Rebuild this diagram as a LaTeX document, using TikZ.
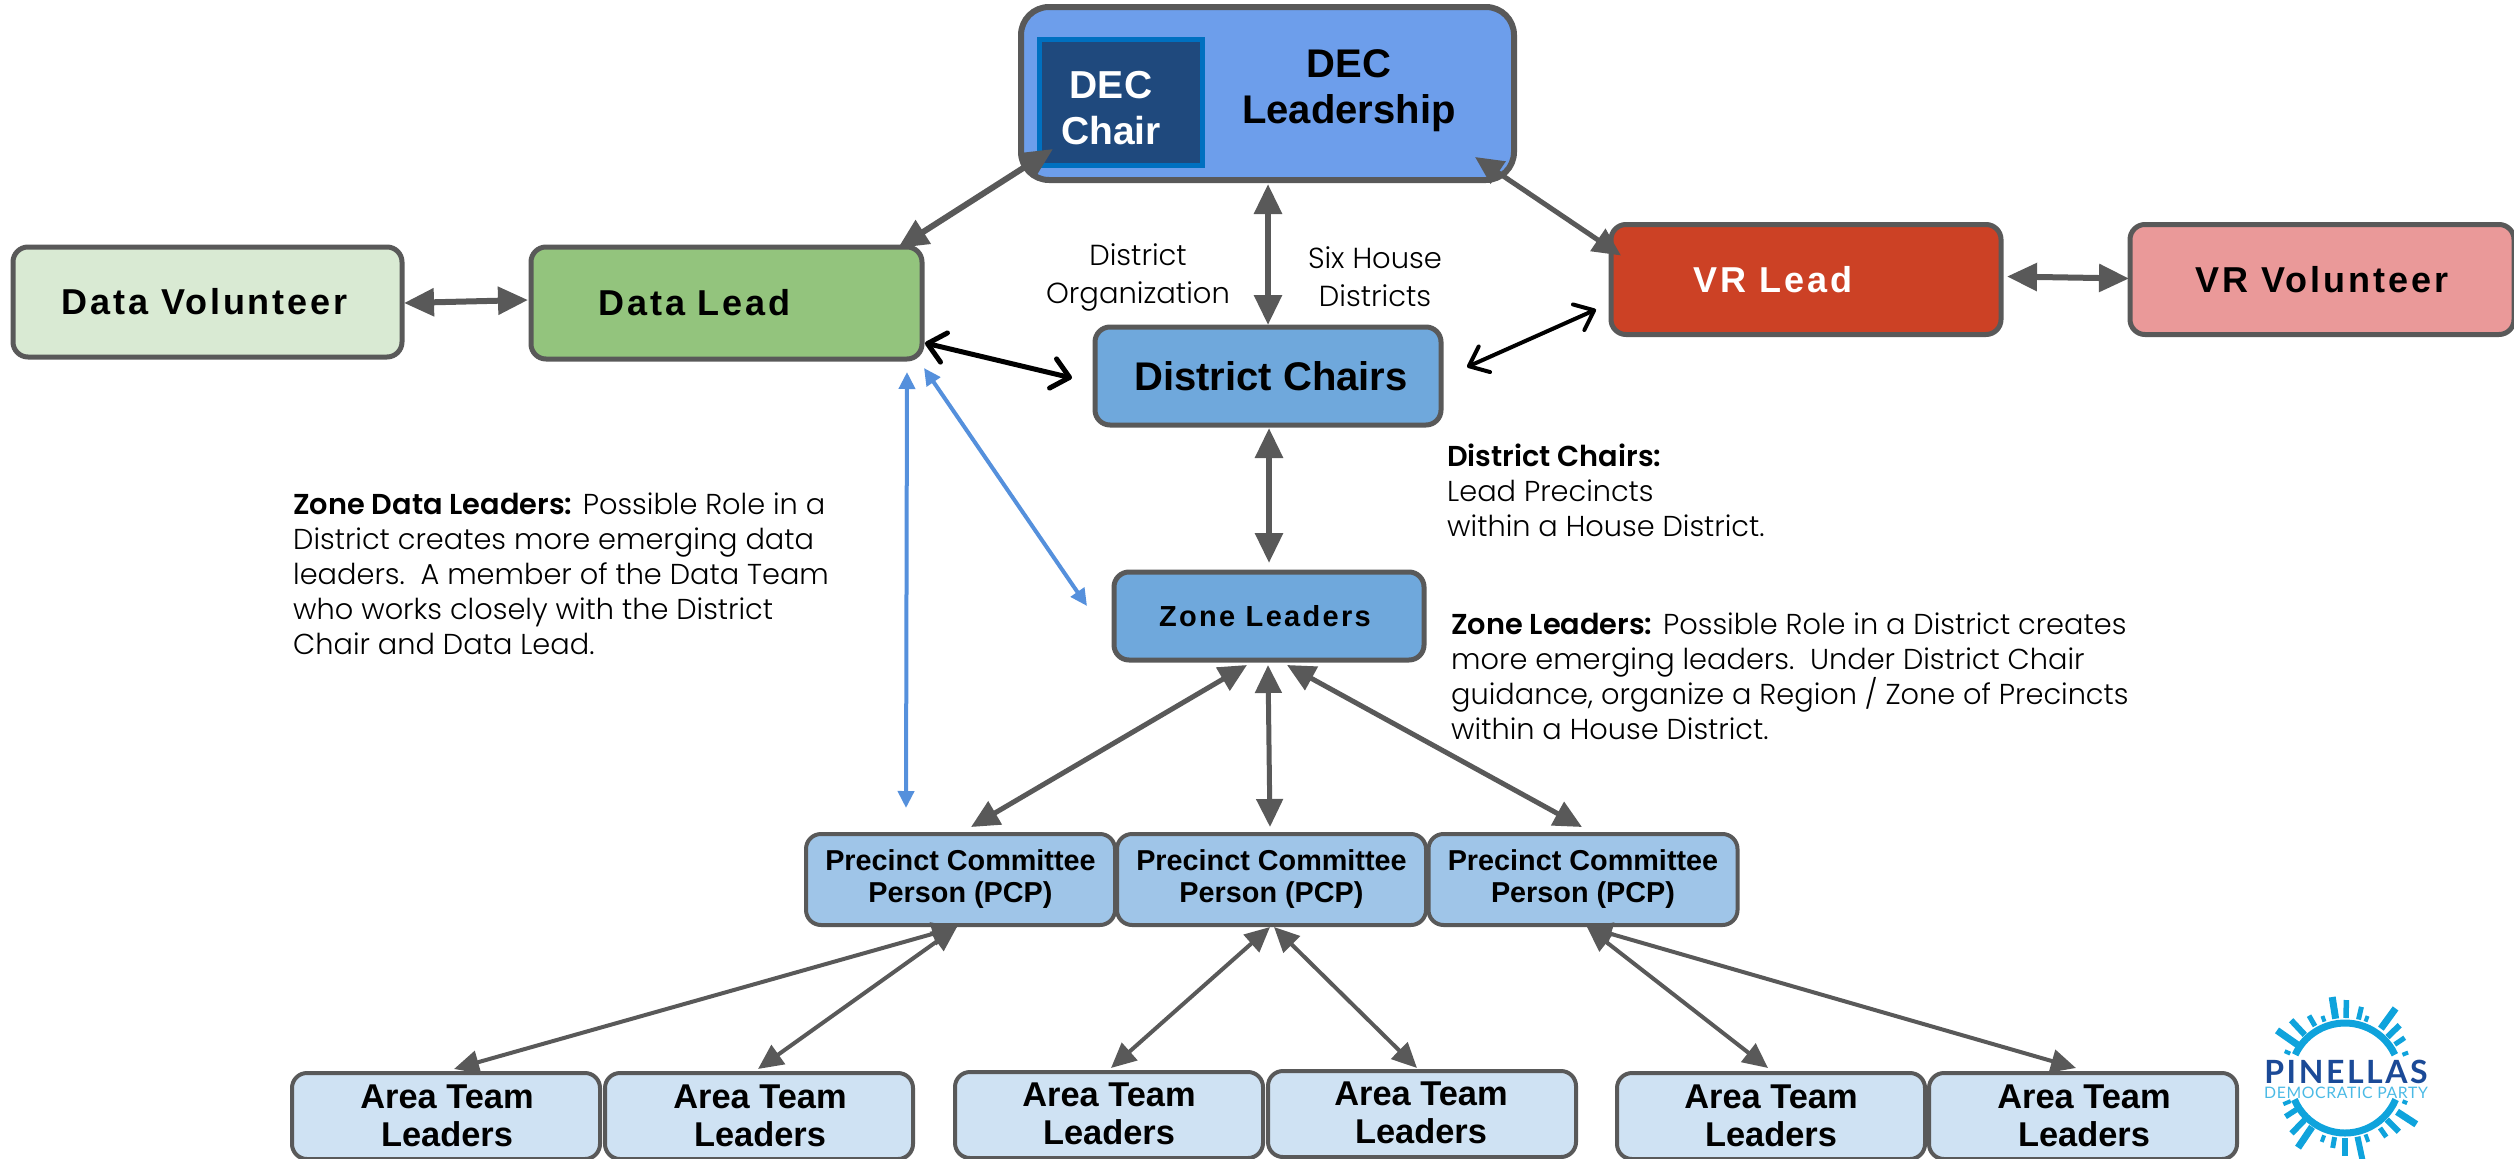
\documentclass[tikz,border=0pt]{standalone}
\usepackage{fontspec}
\usetikzlibrary{arrows.meta,calc}
\setmainfont{Poppins}[UprightFont=* Light,BoldFont=* SemiBold]
\newfontfamily\arialwide[LetterSpace=8]{Liberation Sans}
\newfontfamily\arialzone[LetterSpace=8]{Liberation Sans}
\newfontfamily\arial{Liberation Sans}
\newfontfamily\logofont{Lato}
\definecolor{edge}{HTML}{595959}
\definecolor{decfill}{HTML}{6D9EEB}
\definecolor{chairfill}{HTML}{1F497D}
\definecolor{chairedge}{HTML}{0070C0}
\definecolor{dvfill}{HTML}{D9EAD3}
\definecolor{dlfill}{HTML}{93C47D}
\definecolor{vrfill}{HTML}{CC4125}
\definecolor{vvfill}{HTML}{EA9999}
\definecolor{midblue}{HTML}{6FA8DC}
\definecolor{pcpfill}{HTML}{9FC5E8}
\definecolor{areafill}{HTML}{CFE2F3}
\definecolor{bluearrow}{HTML}{5590DC}
\definecolor{sun}{HTML}{0FA3DC}
\definecolor{navy}{HTML}{1B4A97}
\tikzset{
  boxbase/.style={draw=edge,line width=5pt,rounded corners=15pt,inner sep=0pt,outer sep=0pt},
  topbox/.style={boxbase,font=\arialwide\bfseries\fontsize{36}{40}\selectfont,minimum height=110pt},
  pcpbox/.style={boxbase,fill=pcpfill,minimum width=309pt,minimum height=91pt,line width=4pt,font=\arial\bfseries\fontsize{28.8}{32}\selectfont,align=center},
  areabox/.style={boxbase,fill=areafill,minimum width=308pt,minimum height=86pt,line width=4pt},
  arealabel/.style={font=\arial\bfseries\fontsize{34.4}{38}\selectfont,align=center,inner sep=0pt},
  conn/.style={draw=edge,line width=6pt,{Triangle[length=30pt,width=27pt]}-{Triangle[length=30pt,width=27pt]}},
  connmid/.style={draw=edge,line width=5pt,{Triangle[length=28pt,width=26pt]}-{Triangle[length=28pt,width=26pt]}},
  connsmall/.style={draw=edge,line width=4pt,{Triangle[length=25pt,width=23pt]}-{Triangle[length=25pt,width=23pt]}},
  blackthick/.style={draw=black,line width=5pt,{Straight Barb[length=17pt,width=30pt,round]}-{Straight Barb[length=17pt,width=30pt,round]}},
  blackthin/.style={draw=black,line width=4pt,{Straight Barb[length=17pt,width=28pt,round]}-{Straight Barb[length=17pt,width=28pt,round]}},
  blueconn/.style={draw=bluearrow,line width=4pt,{Triangle[length=17pt,width=16pt]}-{Triangle[length=17pt,width=16pt]}},
  note/.style={font=\fontsize{28.8}{35}\selectfont,align=left,anchor=north west,inner sep=0pt},
  side/.style={font=\fontsize{29}{38}\selectfont,align=center,inner sep=0pt},
  sunray/.style={draw=sun,line cap=butt}
}
\begin{document}
\begin{tikzpicture}[x=1pt,y=-1pt]
\useasboundingbox (0,0) rectangle (2514,1159);
\clip (0,0) rectangle (2514,1159);
% boxes
\node[boxbase,fill=decfill,minimum width=493pt,minimum height=173pt,line width=6pt,rounded corners=28pt] (dec) at (1267.5,93.5) {};
\node[draw=chairedge,fill=chairfill,line width=5pt,minimum width=163pt,minimum height=126pt,inner sep=0pt,outer sep=0pt] (chair) at (1120.5,102) {};
\node[font=\arial\bfseries\fontsize{39}{46}\selectfont,align=center,text=white,inner sep=0pt] (chairlabel) at (1111,108) {DEC\\Chair};
\node[font=\arial\bfseries\fontsize{40}{46}\selectfont,align=center,inner sep=0pt] (declabel) at (1349,91) {DEC\\Leadership};
\node[topbox,fill=dvfill,minimum width=389pt] (dv) at (207.5,302) {\hspace*{-6pt}Data Volunteer};
\node[topbox,fill=dlfill,minimum width=391pt,minimum height=112pt] (dl) at (726.5,303) {\hspace*{-64pt}Data Lead};
\node[topbox,fill=vrfill,minimum width=390pt,text=white] (vr) at (1806,279.5) {\hspace*{-66pt}VR Lead};
\node[topbox,fill=vvfill,minimum width=384pt] (vv) at (2322,279.5) {VR Volunteer};
\node[boxbase,fill=midblue,minimum width=346pt,minimum height=98pt,font=\arial\bfseries\fontsize{40}{44}\selectfont] (dc) at (1268,376) {\hspace*{6pt}District Chairs};
\node[boxbase,fill=midblue,minimum width=310pt,minimum height=88pt,font=\arialzone\bfseries\fontsize{29}{32}\selectfont] (zl) at (1269,616) {\hspace*{-8pt}Zone Leaders};
\node[pcpbox] (p1) at (960.5,879.5) {Precinct Committee\\Person (PCP)};
\node[pcpbox] (p2) at (1271.5,879.5) {Precinct Committee\\Person (PCP)};
\node[pcpbox] (p3) at (1583,879.5) {Precinct Committee\\Person (PCP)};
\node[areabox] (a1) at (446,1116) {};
\node[areabox] (a2) at (759,1116) {};
\node[areabox] (a3) at (1109,1115) {};
\node[areabox] (a4) at (1422,1114) {};
\node[areabox] (a5) at (1771,1116) {};
\node[areabox] (a6) at (2083,1116) {};
\node[arealabel] (l1) at (447,1116) {Area Team\\Leaders};
\node[arealabel] (l2) at (760,1116) {Area Team\\Leaders};
\node[arealabel] (l3) at (1109,1114) {Area Team\\Leaders};
\node[arealabel] (l4) at (1421,1113) {Area Team\\Leaders};
\node[arealabel] (l5) at (1771,1116) {Area Team\\Leaders};
\node[arealabel] (l6) at (2084,1116) {Area Team\\Leaders};
% connectors
\draw[conn] ($(dv.east)+(2,1)$) -- ($(dl.west)+(-3,-3)$);
\draw[conn] ($(chair.south west)+(14,-16)$) -- ($(dl.north east)+(-24,1)$);
\draw[conn] ($(dec.south)+(0.5,4)$) -- ($(dc.north)+(0,-2)$);
\draw[connmid] ($(dec.south east)+(-39,-23)$) -- ($(vr.north west)+(10,31)$);
\draw[conn] ($(vr.east)+(6,-3)$) -- ($(vv.west)+(-1,-1)$);
\draw[conn] ($(dc.south)+(1,3)$) -- ($(zl.north)+(0,-9)$);
\draw[blackthick] ($(dl.south east)+(3,-16)$) -- ($(dc.west)+(-23,2)$);
\draw[blackthin] ($(dc.east)+(26,-9)$) -- ($(vr.west)+(-15,30)$);
\draw[blueconn] ($(dl.south)+(180.5,13)$) -- ($(p1.north)+(-54.5,-26)$);
\draw[blueconn] ($(dl.south)+(197.5,9)$) -- ($(zl.west)+(-27,-10)$);
\draw[connmid] ($(zl.south)+(-22,5)$) -- ($(p1.north)+(10.5,-7)$);
\draw[connmid] ($(zl.south)+(-1,5)$) -- ($(p2.north)+(-1.5,-7)$);
\draw[connmid] ($(zl.south)+(18,5)$) -- ($(p3.north)+(-1,-7)$);
\draw[connsmall] ($(p1.south)+(-3.5,2)$) -- ($(a1.north)+(8,-4)$);
\draw[connsmall] ($(p1.south)+(-3.5,2)$) -- ($(a2.north)+(-1,-4)$);
\draw[connsmall] ($(p2.south)+(-1.5,2)$) -- ($(a3.north)+(2,-4)$);
\draw[connsmall] ($(p2.south)+(2.5,2)$) -- ($(a4.north)+(-5,-3)$);
\draw[connsmall] ($(p3.south)+(4,2)$) -- ($(a5.north)+(-3,-5)$);
\draw[connsmall] ($(p3.south)+(4,2)$) -- ($(a6.north)+(-7,-5)$);
% free text
\node[side] (so) at (1138,277) {District\\Organization};
\node[side] (sh) at (1375,277) {Six House\\Districts};
\node[note] (n1) at (1447,444) {\textbf{District Chairs:}\\Lead Precincts\\within a House District.};
\node[note] (n2) at (293,493) {\textbf{Zone Data Leaders:} Possible Role in a\\District creates more emerging data\\leaders.\ \ A member of the Data Team\\who works closely with the District\\Chair and Data Lead.};
\node[note] (n3) at (1451,613) {\textbf{Zone Leaders:} Possible Role in a District creates\\more emerging leaders.\ \ Under District Chair\\guidance, organize a Region / Zone of Precincts\\within a House District.};
% logo
\draw[sun,line width=7pt] (2345,1078) ++(23:55) arc[start angle=23,end angle=157,radius=55];
\draw[sun,line width=7pt] (2345,1078) ++(-25:55) arc[start angle=-25,end angle=-155,radius=55];
\foreach \a/\i/\o/\w in {78/60/84/6,90/60/78/5.5,100/60/71/5,110/61/68/4,124/59/84/7,134/58/77/6,147/58/71/5.5,157/59/67/4,70/60/68/4,55/61/72/5,45/59/76/6,33/62/85/7,22/62/67/4,-156/60/66/4,-145/57/83/7,-133/59/79/6,-120/60/72/5,-110/60/66/4,-99/60/82/7,-89/60/78/5.5,-77/60/73/5,-70/60/66/4,-54/61/86/7,-44/59/76/6,-34/60/72/5,-22/62/68/4}{
  \draw[sunray,line width=\w pt] ($(2345,1078)+(\a:\i)$) -- ($(2345,1078)+(\a:\o)$);
}
\node[font=\logofont\bfseries\fontsize{32}{32}\selectfont\addfontfeature{LetterSpace=8},text=navy,inner sep=0pt,text height=22pt,text depth=0pt] (pin) at (2346,1072) {PINELLAS};
\node[font=\logofont\fontsize{15.8}{16}\selectfont\addfontfeature{LetterSpace=4},text=sun!75!white,inner sep=0pt,text height=11pt,text depth=0pt] (dem) at (2346,1093) {DEMOCRATIC PARTY};
\end{tikzpicture}
\end{document}
